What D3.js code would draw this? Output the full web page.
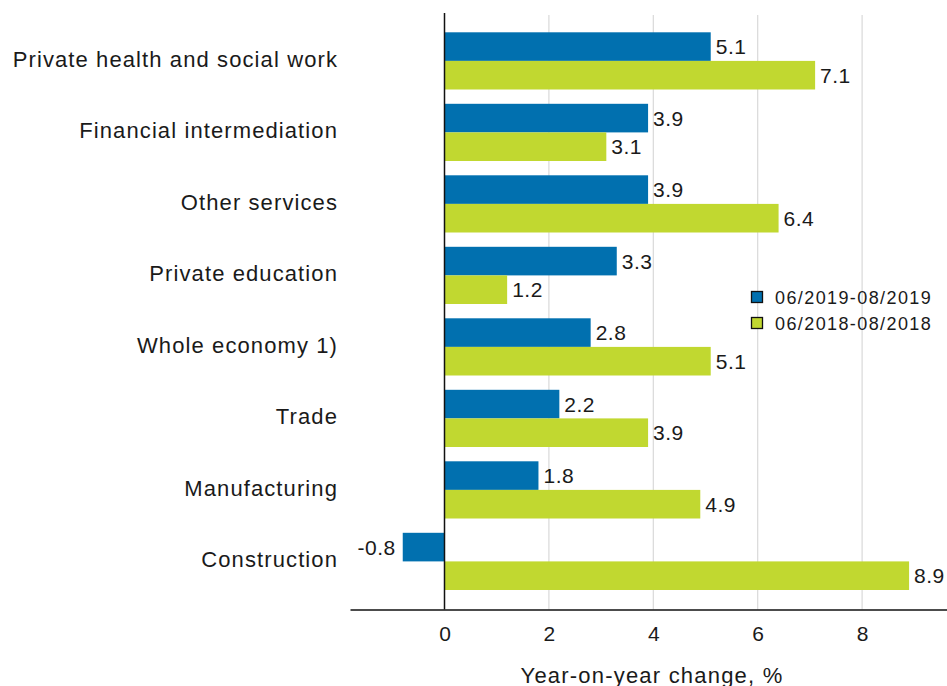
<!DOCTYPE html>
<html>
<head>
<meta charset="utf-8">
<script src="https://cdn.jsdelivr.net/npm/d3@7"></script>
<style>
  body { margin: 0; background: #fff; }
  text { font-family: "Liberation Sans", Arial, sans-serif; fill: #1a1a1a; }
</style>
</head>
<body>
<div id="chart-area"></div>
<script>
const categories = ["Private health and social work", "Financial intermediation", "Other services",
  "Private education", "Whole economy 1)", "Trade", "Manufacturing", "Construction"]
const series2019 = [5.1, 3.9, 3.9, 3.3, 2.8, 2.2, 1.8, -0.8]
const series2018 = [7.1, 3.1, 6.4, 1.2, 5.1, 3.9, 4.9, 8.9]
const seriesNames = ["06/2019-08/2019", "06/2018-08/2018"]
const xTicks = [0, 2, 4, 6, 8]
const COLORS = ["#0170af", "#c1d830"]

const W = 947, H = 686
const PLOT = { LEFT: 350, RIGHT: 947, TOP: 13, BOTTOM: 609.5 }
const ZERO = 444.5, PX_PER_UNIT = 52.2

const svg = d3.select("#chart-area").append("svg")
  .attr("width", W)
  .attr("height", H)

const x = d3.scaleLinear()
  .domain([(PLOT.LEFT - ZERO) / PX_PER_UNIT, (PLOT.RIGHT - ZERO) / PX_PER_UNIT])
  .range([PLOT.LEFT, PLOT.RIGHT])

const y = d3.scaleBand()
  .domain(categories)
  .range([32.3, 590])
  .paddingInner(0.2)
  .paddingOuter(0)

const sub = d3.scaleBand()
  .domain([0, 1])
  .range([0, y.bandwidth()])

// grid lines
svg.append("g")
  .selectAll("line")
  .data(xTicks.filter(d => d !== 0))
  .enter().append("line")
  .attr("x1", d => x(d)).attr("x2", d => x(d))
  .attr("y1", PLOT.TOP + 2).attr("y2", PLOT.BOTTOM)
  .attr("stroke", "#d9d9d9")
  .attr("stroke-width", 1.2)

const data = categories.map((c, i) => ({ cat: c, vals: [series2019[i], series2018[i]] }))

const groups = svg.selectAll(".grp")
  .data(data)
  .enter().append("g")
  .attr("class", "grp")
  .attr("transform", d => `translate(0, ${y(d.cat)})`)

groups.selectAll("rect")
  .data(d => d.vals.map((v, j) => ({ v, j })))
  .enter().append("rect")
  .attr("x", d => x(Math.min(0, d.v)))
  .attr("y", d => sub(d.j))
  .attr("width", d => Math.abs(x(d.v) - x(0)))
  .attr("height", sub.bandwidth())
  .attr("fill", d => COLORS[d.j])

groups.selectAll(".val")
  .data(d => d.vals.map((v, j) => ({ v, j })))
  .enter().append("text")
  .attr("class", "val")
  .attr("x", d => d.v < 0 ? x(d.v) - 7 : x(d.v) + 5)
  .attr("y", d => sub(d.j) + sub.bandwidth() / 2)
  .attr("dy", "0.36em")
  .attr("text-anchor", d => d.v < 0 ? "end" : "start")
  .attr("font-size", "21px")
  .attr("letter-spacing", "0.5px")
  .text(d => d.v.toFixed(1))

// category labels
svg.append("g")
  .selectAll("text")
  .data(categories)
  .enter().append("text")
  .attr("x", 338)
  .attr("y", d => y(d) + y.bandwidth() / 2 - 2)
  .attr("dy", "0.36em")
  .attr("text-anchor", "end")
  .attr("font-size", "22px")
  .attr("letter-spacing", "1.1px")
  .text(d => d)

// zero line
svg.append("line")
  .attr("x1", x(0)).attr("x2", x(0))
  .attr("y1", PLOT.TOP).attr("y2", PLOT.BOTTOM)
  .attr("stroke", "#111")
  .attr("stroke-width", 1.5)

// x axis
const xAxis = d3.axisBottom(x).tickValues(xTicks).tickSize(0).tickPadding(17).tickFormat(d3.format("d"))
const ax = svg.append("g")
  .attr("transform", `translate(0, ${PLOT.BOTTOM})`)
  .call(xAxis)
ax.select(".domain").attr("stroke", "#111").attr("stroke-width", 1.5)
ax.selectAll("text")
  .attr("font-size", "21px")
  .attr("fill", "#1a1a1a")
  .attr("font-family", "Liberation Sans, Arial, sans-serif")

svg.append("text")
  .attr("x", 652)
  .attr("y", 683)
  .attr("text-anchor", "middle")
  .attr("font-size", "22px")
  .attr("letter-spacing", "1.2px")
  .text("Year-on-year change, %")

// legend
const legend = svg.append("g").attr("transform", "translate(751, 291)")
seriesNames.forEach((name, i) => {
  legend.append("rect")
    .attr("x", 0.5).attr("y", i * 26 + 0.5)
    .attr("width", 11).attr("height", 11)
    .attr("fill", COLORS[i])
    .attr("stroke", "#111")
    .attr("stroke-width", 1.3)
  legend.append("text")
    .attr("x", 24)
    .attr("y", i * 26 + 7)
    .attr("dy", "0.36em")
    .attr("font-size", "18px")
    .attr("letter-spacing", "1.4px")
    .text(name)
})
</script>
</body>
</html>
